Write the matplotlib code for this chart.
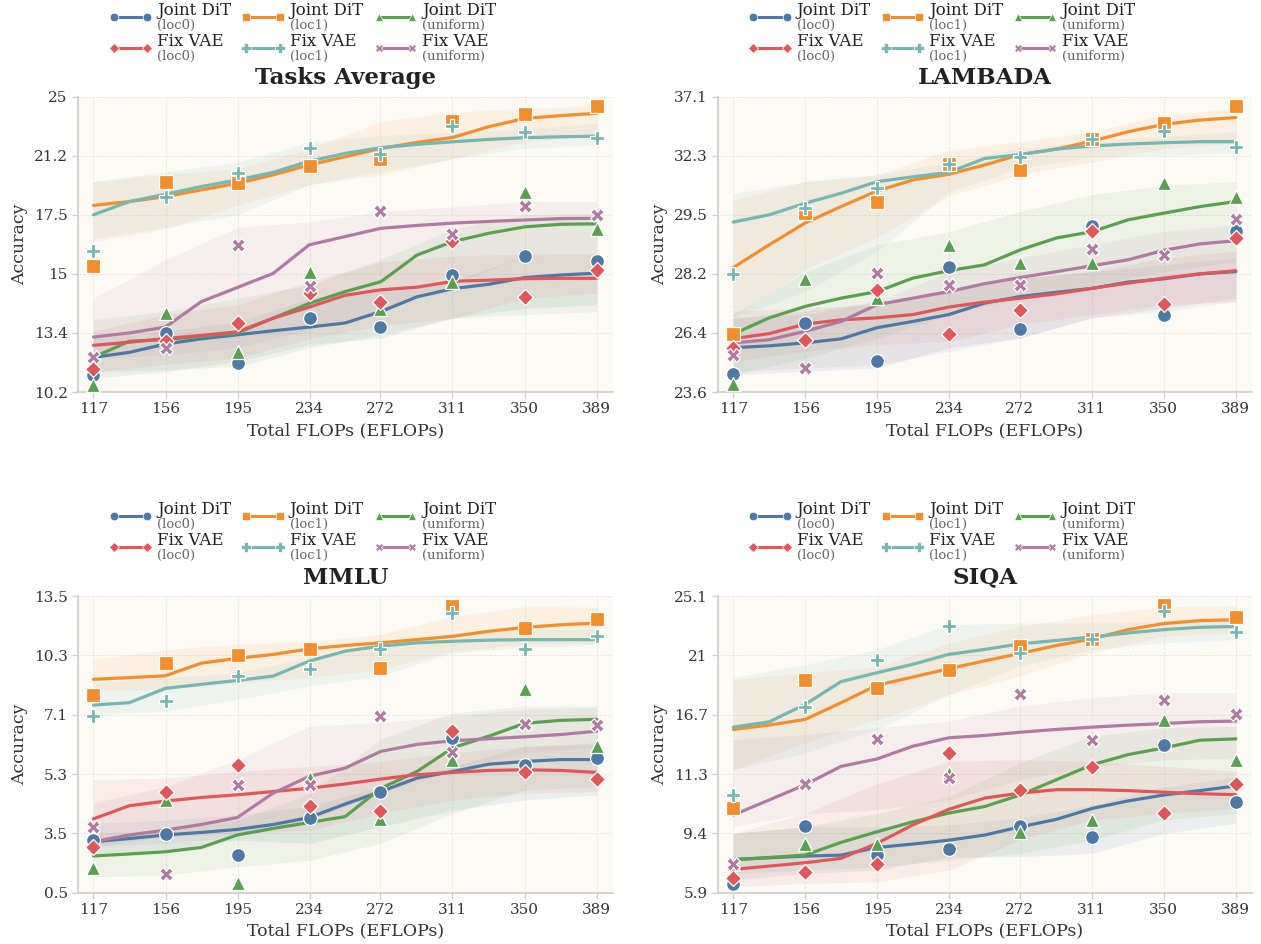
import numpy as np
import matplotlib
matplotlib.use("Agg")
import matplotlib.pyplot as plt
from matplotlib.lines import Line2D
from matplotlib.offsetbox import TextArea, VPacker

plt.rcParams['font.family'] = ['DejaVu Serif']

# x positions (EFLOPs): checkpoints and the denser grid of the fitted curves
FLOPS = [117, 156, 195, 234, 272, 311, 350, 389]
FLOPS_FINE = [117, 136.4, 155.9, 175.3, 194.7, 214.1, 233.6, 253.0,
              272.4, 291.9, 311.3, 330.7, 350.1, 369.6, 389]

MODELS = ["Joint DiT", "Joint DiT", "Joint DiT", "Fix VAE", "Fix VAE", "Fix VAE"]
VARIANTS = ["(loc0)", "(loc1)", "(uniform)", "(loc0)", "(loc1)", "(uniform)"]
COLORS = ["#4e79a7", "#f28e2b", "#59a14f", "#e15759", "#76b7b2", "#b07aa1"]
MARKERS = ["o", "s", "^", "D", "P", "X"]
MSIZES = [10, 10, 10, 8.5, 10.5, 10]

TITLES = ["Tasks Average", "LAMBADA", "MMLU", "SIQA"]

# ---------------- Tasks Average ----------------
AVG_TICKS = [10.2, 13.4, 15, 17.5, 21.2, 25]
AVG_POINTS = [
    [11.1, 13.38, 11.77, 13.8, 13.56, 14.97, 15.75, 15.55],
    [15.35, 19.54, 19.47, 20.57, 20.99, 23.43, 23.88, 24.42],
    [10.6, 13.93, 12.35, 15.1, 14.06, 14.79, 18.9, 16.9],
    [11.45, 12.98, 13.66, 14.48, 14.24, 16.4, 14.38, 15.15],
    [15.97, 18.62, 20.1, 21.72, 21.3, 23.1, 22.75, 22.37],
    [12.08, 12.6, 16.23, 14.68, 17.76, 16.68, 18.04, 17.5],
]
AVG_CURVE = [
    [12.08, 12.35, 12.8, 13.08, 13.3, 13.46, 13.56, 13.67, 13.98, 14.38, 14.6, 14.72, 14.9, 14.97, 15.03],
    [18.09, 18.33, 18.64, 19.06, 19.47, 20.0, 20.62, 21.14, 21.67, 22.06, 22.38, 23.07, 23.6, 23.78, 23.93],
    [12.08, 12.95, 13.04, 13.22, 13.4, 13.8, 14.2, 14.52, 14.79, 15.8, 16.37, 16.72, 16.99, 17.1, 17.12],
    [12.73, 12.9, 13.1, 13.27, 13.43, 13.8, 14.1, 14.42, 14.57, 14.64, 14.8, 14.83, 14.87, 14.88, 14.88],
    [17.5, 18.33, 18.79, 19.27, 19.68, 20.16, 20.86, 21.35, 21.72, 21.93, 22.1, 22.25, 22.36, 22.42, 22.46],
    [13.18, 13.4, 13.56, 14.25, 14.63, 15.02, 16.23, 16.58, 16.93, 17.05, 17.15, 17.22, 17.28, 17.34, 17.35],
]
AVG_LOW = [
    [10.96, 11.3, 11.86, 12.77, 13.13, 13.8, 14.07, 14.16],
    [16.37, 16.9, 18.1, 19.4, 20.0, 21.0, 22.1, 22.5],
    [11.3, 11.4, 11.6, 12.6, 13.3, 13.8, 13.9, 13.98],
    [11.3, 11.7, 12.05, 13.1, 13.6, 13.8, 14.34, 14.48],
    [16.5, 16.97, 17.5, 19.4, 20.2, 21.0, 21.67, 21.88],
    [12.05, 12.2, 12.6, 13.5, 13.98, 14.7, 15.76, 15.84],
]
AVG_HIGH = [
    [13.13, 13.45, 13.7, 14.34, 14.61, 14.79, 15.76, 15.84],
    [19.58, 20.04, 20.4, 21.67, 23.4, 24.0, 24.25, 24.4],
    [13.76, 13.98, 14.34, 14.7, 15.6, 16.9, 17.5, 17.6],
    [13.45, 13.9, 14.17, 14.8, 15.5, 15.76, 15.84, 15.84],
    [19.58, 20.2, 20.8, 22.1, 22.5, 22.7, 22.9, 23.3],
    [14.34, 15.6, 16.97, 17.2, 17.7, 18.0, 18.33, 18.33],
]

# ---------------- LAMBADA ----------------
LAM_TICKS = [23.6, 26.4, 28.2, 29.5, 32.3, 37.1]
LAM_POINTS = [
    [24.45, 26.69, 25.06, 28.36, 26.52, 29.26, 26.94, 29.15],
    [26.35, 29.58, 30.12, 31.9, 31.62, 33.7, 34.98, 36.38],
    [23.98, 28.04, 27.46, 28.84, 28.45, 28.45, 30.99, 30.36],
    [25.7, 26.05, 27.7, 26.35, 27.1, 29.14, 27.28, 29.0],
    [28.2, 29.81, 30.76, 31.9, 32.25, 33.7, 34.3, 32.98],
    [25.36, 24.74, 28.23, 27.86, 27.86, 28.74, 28.62, 29.4],
]
LAM_CURVE = [
    [25.7, 25.79, 25.93, 26.12, 26.56, 26.75, 26.96, 27.31, 27.51, 27.64, 27.76, 27.95, 28.05, 28.2, 28.25],
    [28.34, 28.84, 29.32, 29.89, 30.63, 31.15, 31.42, 31.86, 32.4, 32.84, 33.49, 34.25, 34.85, 35.2, 35.4],
    [26.35, 26.86, 27.21, 27.46, 27.66, 28.07, 28.27, 28.4, 28.73, 28.99, 29.13, 29.39, 29.58, 29.89, 30.13],
    [26.13, 26.37, 26.67, 26.8, 26.86, 26.96, 27.19, 27.34, 27.46, 27.59, 27.76, 27.92, 28.07, 28.2, 28.27],
    [29.34, 29.5, 30.05, 30.52, 31.07, 31.3, 31.51, 32.17, 32.4, 32.84, 33.09, 33.25, 33.36, 33.44, 33.44],
    [25.93, 26.08, 26.45, 26.75, 27.26, 27.46, 27.66, 27.9, 28.09, 28.25, 28.38, 28.51, 28.72, 28.86, 28.93],
]
LAM_LOW = [
    [24.42, 24.58, 24.74, 25.7, 26.16, 26.86, 27.16, 27.46],
    [26.9, 28.3, 29.0, 30.4, 31.4, 32.0, 32.9, 33.3],
    [24.42, 25.2, 26.16, 26.96, 27.46, 27.86, 28.25, 28.47],
    [25.06, 25.53, 25.85, 26.0, 26.66, 26.96, 27.26, 27.36],
    [26.86, 27.66, 28.7, 30.6, 31.7, 32.25, 32.35, 32.5],
    [24.58, 24.74, 24.9, 25.53, 26.16, 26.86, 27.06, 27.36],
]
LAM_HIGH = [
    [26.86, 26.96, 27.36, 27.66, 28.07, 28.25, 28.4, 28.55],
    [30.2, 31.07, 31.4, 32.75, 33.44, 34.25, 35.6, 36.15],
    [26.96, 28.25, 28.84, 29.13, 29.66, 30.45, 30.9, 31.07],
    [27.06, 27.16, 27.26, 27.66, 28.07, 28.25, 28.55, 28.7],
    [30.52, 31.07, 31.4, 32.0, 32.9, 33.5, 33.9, 34.25],
    [26.86, 27.06, 27.36, 28.25, 28.55, 28.84, 29.13, 29.28],
]

# ---------------- MMLU ----------------
MMLU_TICKS = [0.5, 3.5, 5.3, 7.1, 10.3, 13.5]
MMLU_POINTS = [
    [3.16, 3.47, 2.39, 3.96, 4.77, 6.4, 5.58, 5.79],
    [8.19, 9.87, 10.3, 10.65, 9.6, 12.97, 11.8, 12.26],
    [1.73, 4.52, 0.98, 5.17, 3.93, 5.74, 8.5, 6.14],
    [2.83, 4.77, 5.57, 4.34, 4.17, 6.6, 5.36, 5.14],
    [7.06, 7.83, 9.18, 9.54, 10.67, 12.6, 10.67, 11.33],
    [3.7, 1.44, 4.96, 4.96, 7.06, 5.97, 6.81, 6.78],
]
MMLU_CURVE = [
    [3.08, 3.24, 3.42, 3.53, 3.62, 3.77, 3.98, 4.39, 4.77, 5.18, 5.38, 5.6, 5.68, 5.74, 5.74],
    [9.01, 9.1, 9.2, 9.88, 10.14, 10.35, 10.65, 10.83, 10.98, 11.15, 11.33, 11.6, 11.81, 11.95, 12.04],
    [2.36, 2.46, 2.57, 2.79, 3.42, 3.65, 3.83, 4.01, 4.87, 5.38, 6.1, 6.45, 6.84, 6.93, 6.96],
    [3.94, 4.34, 4.48, 4.59, 4.67, 4.77, 4.87, 5.0, 5.15, 5.28, 5.35, 5.41, 5.43, 5.41, 5.35],
    [7.62, 7.75, 8.52, 8.74, 8.95, 9.18, 9.99, 10.53, 10.8, 10.98, 11.06, 11.12, 11.15, 11.15, 11.15],
    [3.08, 3.42, 3.6, 3.77, 3.98, 4.72, 5.23, 5.48, 5.99, 6.2, 6.31, 6.37, 6.43, 6.5, 6.6],
]
MMLU_LOW = [
    [2.49, 2.66, 3.16, 3.0, 3.7, 4.2, 4.51, 4.67],
    [8.38, 8.47, 8.83, 9.1, 9.54, 10.53, 10.9, 10.98],
    [1.3, 1.39, 1.81, 2.15, 3.0, 4.1, 4.82, 4.92],
    [2.83, 3.33, 3.5, 3.6, 4.1, 4.51, 4.72, 4.77],
    [7.1, 7.3, 7.93, 8.65, 9.18, 10.44, 10.71, 10.9],
    [2.83, 3.0, 3.33, 3.9, 4.72, 5.43, 5.95, 6.1],
]
MMLU_HIGH = [
    [3.8, 3.9, 4.06, 4.32, 4.92, 5.53, 6.14, 6.25],
    [10.1, 10.6, 10.9, 11.06, 11.42, 12.4, 12.93, 12.9],
    [3.5, 3.6, 3.9, 4.72, 6.35, 7.2, 7.56, 7.56],
    [5.13, 5.18, 5.38, 5.53, 5.68, 5.95, 6.14, 6.2],
    [8.83, 9.1, 9.36, 10.2, 10.98, 11.5, 11.7, 11.7],
    [4.42, 4.92, 5.74, 6.76, 6.86, 7.06, 7.39, 7.48],
]

# ---------------- SIQA ----------------
SIQA_TICKS = [5.9, 9.4, 11.3, 16.7, 21, 25.1]
SIQA_POINTS = [
    [6.41, 9.65, 8.1, 8.46, 9.64, 9.17, 13.93, 10.42],
    [10.2, 19.19, 18.67, 19.97, 21.64, 22.15, 24.5, 23.62],
    [7.6, 8.75, 8.75, 11.36, 9.45, 9.83, 16.2, 12.6],
    [6.79, 7.13, 7.59, 13.2, 10.8, 11.94, 10.05, 10.99],
    [10.62, 17.26, 20.65, 23.05, 21.14, 22.15, 24.05, 22.6],
    [7.59, 10.98, 14.5, 11.17, 18.2, 14.43, 17.8, 16.77],
]
SIQA_CURVE = [
    [7.87, 7.96, 8.06, 8.12, 8.57, 8.77, 9.0, 9.3, 9.61, 9.85, 10.2, 10.44, 10.63, 10.77, 10.92],
    [15.36, 15.76, 16.27, 17.57, 18.83, 19.43, 20.03, 20.6, 21.14, 21.68, 22.14, 22.78, 23.2, 23.4, 23.46],
    [7.83, 7.98, 8.12, 8.87, 9.45, 9.77, 10.05, 10.26, 10.63, 11.12, 12.15, 13.07, 13.68, 14.38, 14.5],
    [7.28, 7.47, 7.67, 7.93, 8.81, 9.67, 10.17, 10.53, 10.69, 10.8, 10.8, 10.77, 10.72, 10.67, 10.64],
    [15.57, 16.05, 17.45, 19.1, 19.74, 20.35, 21.07, 21.41, 21.8, 22.03, 22.28, 22.55, 22.78, 22.94, 23.0],
    [9.99, 10.47, 10.96, 12.0, 12.67, 13.83, 14.6, 14.81, 15.11, 15.36, 15.57, 15.75, 15.9, 16.06, 16.12],
]
SIQA_LOW = [
    [6.65, 7.04, 7.24, 8.02, 8.02, 8.22, 9.4, 9.72],
    [11.7, 14.15, 16.27, 18.17, 19.5, 21.18, 22.32, 22.55],
    [7.04, 7.24, 7.43, 7.83, 8.22, 9.0, 9.83, 10.04],
    [6.25, 6.45, 6.55, 7.24, 9.0, 9.83, 10.04, 10.2],
    [11.7, 13.22, 15.36, 18.17, 20.23, 21.41, 21.87, 22.09],
    [9.61, 10.04, 10.15, 10.47, 11.12, 12.0, 12.6, 12.76],
]
SIQA_HIGH = [
    [9.4, 9.61, 9.61, 9.67, 9.9, 10.3, 10.9, 11.2],
    [19.26, 19.73, 20.19, 21.87, 23.0, 23.8, 24.37, 24.41],
    [9.4, 9.61, 10.04, 10.58, 12.3, 14.75, 15.51, 15.66],
    [9.4, 10.04, 11.0, 12.46, 12.6, 12.46, 12.0, 11.54],
    [19.38, 20.35, 21.41, 23.12, 23.23, 23.23, 23.35, 23.69],
    [14.44, 14.9, 15.51, 16.12, 17.33, 17.93, 18.29, 18.29],
]

PANELS = [
    (AVG_TICKS, AVG_POINTS, AVG_CURVE, AVG_LOW, AVG_HIGH),
    (LAM_TICKS, LAM_POINTS, LAM_CURVE, LAM_LOW, LAM_HIGH),
    (MMLU_TICKS, MMLU_POINTS, MMLU_CURVE, MMLU_LOW, MMLU_HIGH),
    (SIQA_TICKS, SIQA_POINTS, SIQA_CURVE, SIQA_LOW, SIQA_HIGH),
]

# axes rectangles in figure fractions (left, bottom, width, height)
AX_RECTS = [
    (0.0619, 0.5847, 0.4240, 0.3129),
    (0.5694, 0.5847, 0.4232, 0.3129),
    (0.0619, 0.0543, 0.4240, 0.3143),
    (0.5694, 0.0543, 0.4232, 0.3143),
]


def tick_scale(ticks):
    # piecewise-linear axis: the given ticks sit at evenly spaced positions
    t = np.asarray(ticks, dtype=float)
    p = np.arange(len(t), dtype=float)

    def fwd(v):
        v = np.asarray(v, dtype=float)
        out = np.interp(v, t, p)
        out = np.where(v < t[0], (v - t[0]) / (t[1] - t[0]), out)
        out = np.where(v > t[-1], p[-1] + (v - t[-1]) / (t[-1] - t[-2]), out)
        return out

    def inv(u):
        u = np.asarray(u, dtype=float)
        out = np.interp(u, p, t)
        out = np.where(u < 0, t[0] + u * (t[1] - t[0]), out)
        out = np.where(u > p[-1], t[-1] + (u - p[-1]) * (t[-1] - t[-2]), out)
        return out

    return fwd, inv


fig = plt.figure(figsize=(12.61, 9.44), dpi=100)

for k, (ticks, pts, curve, low, high) in enumerate(PANELS):
    ax = fig.add_axes(AX_RECTS[k])
    ax.set_facecolor("#fcfaf5")
    ax.set_yscale("function", functions=tick_scale(ticks))

    for i in range(6):
        ax.fill_between(FLOPS, low[i], high[i], color=COLORS[i], alpha=0.09,
                        linewidth=0, zorder=1)
    for i in range(6):
        ax.plot(FLOPS_FINE, curve[i], color=COLORS[i], lw=2.3, zorder=3,
                solid_capstyle="round")
    for i in range(6):
        ax.plot(FLOPS, pts[i], linestyle="none", marker=MARKERS[i],
                ms=MSIZES[i], color=COLORS[i], mec="white", mew=0.9,
                zorder=4, clip_on=False)

    ax.set_xlim(108.7, 397.6)
    ax.set_ylim(ticks[0], ticks[-1])
    ax.set_xticks(FLOPS)
    ax.set_xticklabels([str(v) for v in FLOPS])
    ax.set_yticks(ticks)
    ax.set_yticklabels([f"{v:g}" for v in ticks])
    ax.minorticks_off()

    ax.grid(True, color="#e9e5dc", linestyle="--", linewidth=0.6, zorder=0)
    ax.set_axisbelow(True)
    for s in ["top", "right"]:
        ax.spines[s].set_visible(False)
    for s in ["left", "bottom"]:
        ax.spines[s].set_color("#d3cdc3")
        ax.spines[s].set_linewidth(1.2)
    ax.tick_params(colors="#d3cdc3", labelcolor="#333333", labelsize=11,
                   length=4, width=1)

    ax.set_xlabel("Total FLOPs (EFLOPs)", fontsize=12.5, color="#333333")
    ax.set_ylabel("Accuracy", fontsize=12.5, color="#333333")
    ax.set_title(TITLES[k], fontsize=16.5, fontweight="bold", color="#222222", pad=9)

    # legend: column-major fill, so interleave Joint / Fix entries
    order = [0, 3, 1, 4, 2, 5]
    handles = [Line2D([], [], color=COLORS[i], lw=2.2, marker=MARKERS[i],
                      ms=MSIZES[i] * 0.62, mec="white", mew=0.5) for i in order]
    leg = ax.legend(handles, [MODELS[i] for i in order], ncol=3,
                    loc="lower center", bbox_to_anchor=(0.42, 1.075),
                    frameon=False, fontsize=12, numpoints=2,
                    handlelength=2.6, handletextpad=0.3, columnspacing=0.6,
                    labelspacing=0.08, borderpad=0.2)
    for t in leg.get_texts():
        t.set_color("#222222")

    # put the variant name under each label, in smaller grey text
    subs = iter([VARIANTS[i] for i in order])
    for col in leg._legend_handle_box.get_children():
        for item in col.get_children():
            item.align = "center"
            kids = item.get_children()
            sub = TextArea(next(subs), textprops=dict(fontsize=9.5, color="#666666"))
            kids[1] = VPacker(children=[kids[1], sub], align="left", pad=0, sep=0)
    leg._legend_box.set_figure(fig)

fig.savefig("out.png", dpi=100)
